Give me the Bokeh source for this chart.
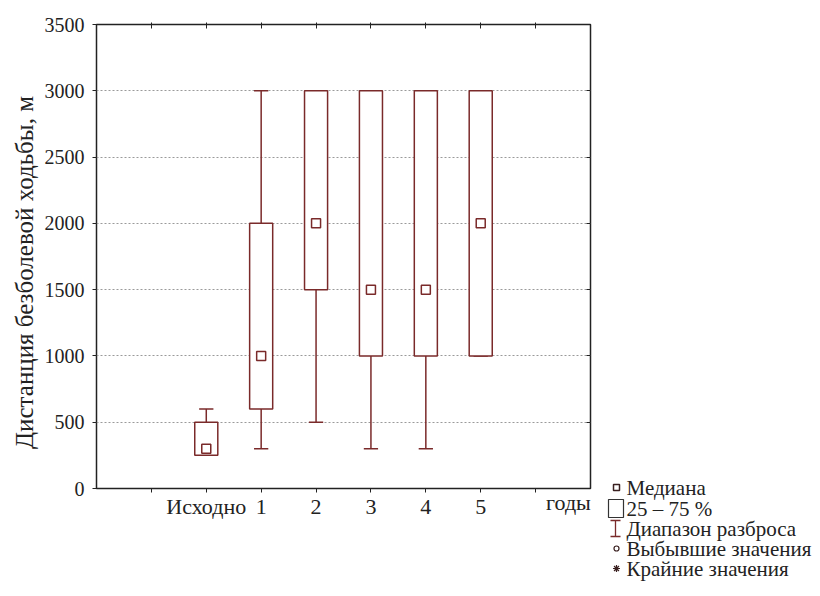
import numpy as np
from bokeh.plotting import figure
from bokeh.layouts import row, column
from bokeh.models import Range1d, FixedTicker, LinearAxis
from bokeh.embed import file_html
from bokeh.resources import INLINE

# ---- data ----
categories = ["Исходно", "1", "2", "3", "4", "5"]
whisker_low = [250, 300, 500, 300, 300, 1000]
q1 = [250, 600, 1500, 1000, 1000, 1000]
median = [300, 1000, 2000, 1500, 1500, 2000]
q3 = [500, 2000, 3000, 3000, 3000, 3000]
whisker_high = [600, 3000, 3000, 3000, 3000, 3000]
y_ticks = [0, 500, 1000, 1500, 2000, 2500, 3000, 3500]
x_axis_title = "годы"
y_axis_title = "Дистанция безболевой ходьбы, м"
legend_labels = ["Медиана", "25 – 75 %", "Диапазон разброса",
                 "Выбывшие значения", "Крайние значения"]

# ---- layout ----
W, H = 820, 596
LEFT_W = 40
FL, FR, FT, FB = 96, 590, 24, 488
MAIN_W = 600 - LEFT_W
LEG_W = W - LEFT_W - MAIN_W
XMAX, YMAX = 9, 3500
SERIF = "Liberation Serif"
BROWN = "#7a2a2a"
DARK = "#222222"

x_pos = np.arange(len(categories)) + 2
x_ticks = list(range(1, XMAX))
overrides = {t: "" for t in x_ticks}
for xp, c in zip(x_pos, categories):
    overrides[int(xp)] = c

p = figure(width=MAIN_W, height=H, x_range=Range1d(0, XMAX), y_range=Range1d(0, YMAX),
           output_backend="svg", toolbar_location=None,
           min_border_left=FL - LEFT_W, min_border_right=LEFT_W + MAIN_W - FR,
           min_border_top=FT, min_border_bottom=H - FB)
p.background_fill_color = "white"
p.border_fill_color = "white"
p.outline_line_color = DARK
p.outline_line_width = 1.5

# axes
p.xaxis.ticker = FixedTicker(ticks=x_ticks)
p.xaxis.major_label_overrides = overrides
p.yaxis.ticker = FixedTicker(ticks=y_ticks)
for ax in (p.xaxis[0], p.yaxis[0]):
    ax.axis_line_color = None
    ax.major_tick_line_color = DARK
    ax.major_tick_in = 0
    ax.major_tick_out = 4
    ax.minor_tick_line_color = None
    ax.major_label_text_font = SERIF
    ax.major_label_text_color = DARK
p.xaxis.major_label_text_font_size = "22px"
p.yaxis.major_label_text_font_size = "20px"
p.xaxis.major_label_standoff = 1
p.yaxis.major_label_standoff = 8
# the label is centred on the axis end; trailing no-break spaces pull the word left
p.xaxis.axis_label = x_axis_title + "\u00a0" * 8
p.xaxis.axis_label_align = "end"
p.xaxis.axis_label_standoff = -32
p.xaxis.axis_label_text_font = SERIF
p.xaxis.axis_label_text_font_style = "normal"
p.xaxis.axis_label_text_font_size = "22px"
p.xaxis.axis_label_text_color = DARK

top_ax = LinearAxis(ticker=FixedTicker(ticks=x_ticks),
                    major_label_overrides={t: "" for t in x_ticks},
                    axis_line_color=None, major_tick_in=4, major_tick_out=2,
                    minor_tick_line_color=None, major_tick_line_color=DARK,
                    major_label_standoff=0)
right_ax = LinearAxis(ticker=FixedTicker(ticks=y_ticks[1:-1]),
                      major_label_overrides={t: "" for t in y_ticks[1:-1]},
                      axis_line_color=None, major_tick_in=4, major_tick_out=0,
                      minor_tick_line_color=None, major_tick_line_color=DARK,
                      major_label_standoff=0)
p.add_layout(top_ax, "above")
p.add_layout(right_ax, "right")

# grid
p.xgrid.grid_line_color = None
p.ygrid.ticker = FixedTicker(ticks=y_ticks[1:-1])
p.ygrid.grid_line_color = "#9a9a9a"
p.ygrid.grid_line_dash = "2 2"
p.ygrid.grid_line_width = 1

# whiskers
p.segment(x0=x_pos, y0=whisker_low, x1=x_pos, y1=whisker_high, line_color=BROWN, line_width=1.5)
cap = 0.13
p.segment(x0=x_pos - cap, y0=whisker_low, x1=x_pos + cap, y1=whisker_low, line_color=BROWN, line_width=1.5)
p.segment(x0=x_pos - cap, y0=whisker_high, x1=x_pos + cap, y1=whisker_high, line_color=BROWN, line_width=1.5)
# boxes
p.vbar(x=x_pos, width=0.42, bottom=q1, top=q3, fill_color="white", line_color=BROWN, line_width=1.5)
# medians
p.scatter(x=x_pos, y=median, marker="square", size=9, fill_color="white",
          line_color=BROWN, line_width=1.5)


def blank_strip(width):
    f = figure(width=width, height=H, x_range=Range1d(0, width), y_range=Range1d(H, 0),
               output_backend="svg", toolbar_location=None,
               min_border=0, min_border_left=0, min_border_right=0,
               min_border_top=0, min_border_bottom=0)
    f.axis.visible = False
    f.grid.visible = False
    f.outline_line_color = None
    f.background_fill_color = "white"
    f.border_fill_color = "white"
    return f


# ---- y-axis title strip (pixel coordinates) ----
lt = blank_strip(LEFT_W)
lt.text(x=[24], y=[272], text=[y_axis_title], angle=np.pi / 2,
        text_font=SERIF, text_font_size="25px", text_align="center",
        text_baseline="middle", text_color=DARK)

# ---- legend strip: pixel coordinates (x from strip left, y from top) ----
lg = blank_strip(LEG_W)
off = LEFT_W + MAIN_W
rows = [487, 508, 528, 548, 568]
sx0 = 616 - off   # symbol centre
tx0 = 626 - off   # text start
lg.scatter(x=[sx0], y=[rows[0]], marker="square", size=6, fill_color="white",
           line_color="#3a2020", line_width=1.5)
lg.quad(left=[sx0 - 8], right=[sx0 + 7], top=[rows[1] - 9], bottom=[rows[1] + 9],
        fill_color="white", line_color="#333333", line_width=1.2)
lg.segment(x0=[sx0 - 1], y0=[rows[2] - 8], x1=[sx0 - 1], y1=[rows[2] + 8],
           line_color=BROWN, line_width=1.3)
lg.segment(x0=[sx0 - 6, sx0 - 6], y0=[rows[2] - 8, rows[2] + 8],
           x1=[sx0 + 4, sx0 + 4], y1=[rows[2] - 8, rows[2] + 8],
           line_color=BROWN, line_width=1.3)
lg.scatter(x=[sx0], y=[rows[3]], marker="circle", size=5, fill_color="white",
           line_color="#3a2020", line_width=1.2)
lg.scatter(x=[sx0], y=[rows[4]], marker="asterisk", size=7,
           line_color="#3a2020", line_width=1.2)
lg.text(x=[tx0] * len(legend_labels), y=rows, text=legend_labels,
        text_font=SERIF, text_font_size="21px", text_align="left",
        text_baseline="middle", text_color=DARK)

layout = row(column(lt, spacing=0), p, column(lg, spacing=0), spacing=0)
open("out.html", "w").write(file_html(layout, INLINE))
